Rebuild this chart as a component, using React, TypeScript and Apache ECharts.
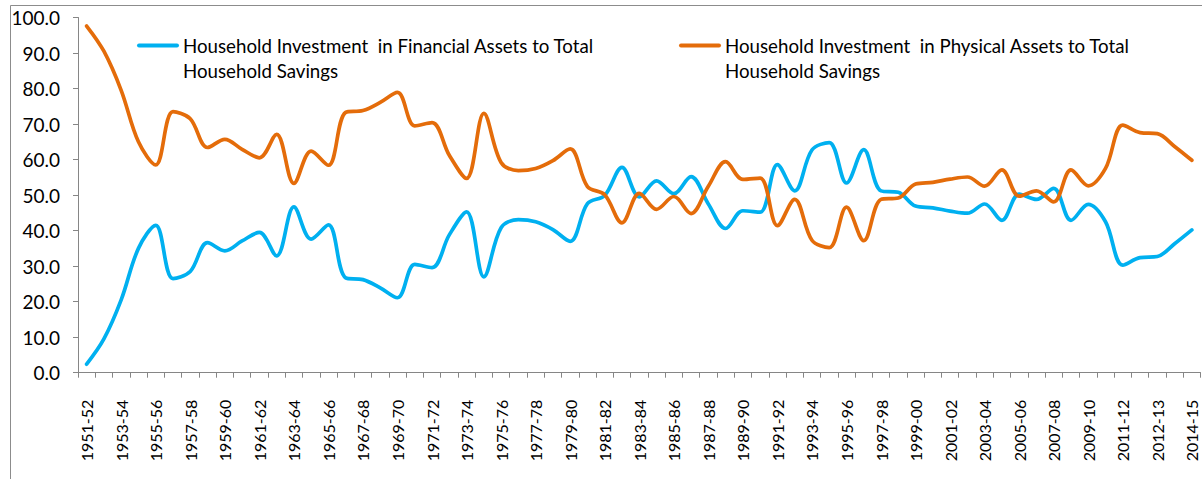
import React, { useEffect, useRef } from "react";
import * as echarts from "echarts";

const categories: string[] = [
  "1951-52", "1952-53", "1953-54", "1954-55", "1955-56", "1956-57", "1957-58", "1958-59", "1959-60", "1960-61",
  "1961-62", "1962-63", "1963-64", "1964-65", "1965-66", "1966-67", "1967-68", "1968-69", "1969-70", "1970-71",
  "1971-72", "1972-73", "1973-74", "1974-75", "1975-76", "1976-77", "1977-78", "1978-79", "1979-80", "1980-81",
  "1981-82", "1982-83", "1983-84", "1984-85", "1985-86", "1986-87", "1987-88", "1988-89", "1989-90", "1990-91",
  "1991-92", "1992-93", "1993-94", "1994-95", "1995-96", "1996-97", "1997-98", "1998-99", "1999-00", "2000-01",
  "2001-02", "2002-03", "2003-04", "2004-05", "2005-06", "2006-07", "2007-08", "2008-09", "2009-10", "2010-11",
  "2011-12", "2011-12", "2012-13", "2013-14", "2014-15",
];

const financial: number[] = [
  2.4, 9.5, 20.5, 35, 41.5, 26.5, 28.5, 36.6, 34.3, 37.1,
  39.5, 32.9, 46.7, 37.6, 41.6, 26.7, 26.2, 23.9, 21.1, 30.5,
  29.6, 38.8, 45.3, 27, 40.8, 43.1, 42.5, 40.3, 37, 47.6,
  49.9, 57.8, 49.5, 54, 50.4, 55.2, 47.5, 40.6, 45.6, 45.2,
  58.6, 51.2, 62.7, 64.8, 53.4, 62.8, 51.2, 50.8, 46.9, 46.4,
  45.5, 44.9, 47.5, 42.9, 50.3, 48.8, 51.9, 42.9, 47.4, 42.5,
  30.3, 32.4, 32.7, 36.3, 40.2,
];

const physical: number[] = [
  97.6, 90.5, 79.5, 65, 58.5, 73.5, 71.5, 63.4, 65.7, 62.9,
  60.5, 67.1, 53.3, 62.4, 58.4, 73.3, 73.8, 76.1, 78.9, 69.5,
  70.4, 61.2, 54.7, 73, 59.2, 56.9, 57.5, 59.7, 63, 52.4,
  50.1, 42.2, 50.5, 46, 49.6, 44.8, 52.5, 59.4, 54.4, 54.8,
  41.4, 48.8, 37.3, 35.2, 46.6, 37.2, 48.8, 49.2, 53.1, 53.6,
  54.5, 55.1, 52.5, 57.1, 49.7, 51.2, 48.1, 57.1, 52.6, 57.5,
  69.7, 67.6, 67.3, 63.7, 59.8,
];

const seriesNames: string[] = [
  "Household Investment  in Financial Assets to Total\nHousehold Savings",
  "Household Investment  in Physical Assets to Total\nHousehold Savings",
];

const BLUE = "#00B0F0";
const ORANGE = "#E46C0A";
const AXIS = "#868686";
const FONT = "Lato, 'Noto Sans', sans-serif";

export default function App() {
  const ref = useRef<HTMLDivElement>(null);

  useEffect(() => {
    if (!ref.current) return;
    const chart = echarts.init(ref.current, null, { renderer: "svg" });
    chart.setOption({
      animation: false,
      backgroundColor: "#ffffff",
      grid: { left: 78, right: 1.5, top: 17.5, bottom: 106.3 },
      xAxis: {
        type: "category",
        data: categories,
        boundaryGap: true,
        axisLine: { show: true, lineStyle: { color: AXIS, width: 1 } },
        axisTick: { show: true, interval: 0, length: 5, alignWithLabel: false, lineStyle: { color: AXIS } },
        axisLabel: {
          interval: 1,
          rotate: 90,
          margin: 27,
          color: "#000",
          fontFamily: FONT,
          fontSize: 16,
        },
        splitLine: { show: false },
      },
      yAxis: {
        type: "value",
        min: 0,
        max: 100,
        interval: 10,
        axisLine: { show: true, lineStyle: { color: AXIS, width: 1 } },
        axisTick: { show: true, length: 5, lineStyle: { color: AXIS } },
        axisLabel: {
          margin: 18,
          color: "#000",
          fontFamily: FONT,
          fontSize: 19,
          formatter: (v: number) => v.toFixed(1),
        },
        splitLine: { show: false },
      },
      series: [
        {
          name: seriesNames[0],
          type: "line",
          data: financial,
          smooth: 0.35,
          showSymbol: false,
          lineStyle: { color: BLUE, width: 3.7, cap: "round", join: "round" },
          itemStyle: { color: BLUE },
        },
        {
          name: seriesNames[1],
          type: "line",
          data: physical,
          smooth: 0.35,
          showSymbol: false,
          lineStyle: { color: ORANGE, width: 3.7, cap: "round", join: "round" },
          itemStyle: { color: ORANGE },
        },
      ],
      graphic: [
        { type: "line", shape: { x1: 10.5, y1: 5.5, x2: 1202, y2: 5.5 }, style: { stroke: "#8c8c8c", lineWidth: 1 } },
        { type: "line", shape: { x1: 10.5, y1: 5.5, x2: 10.5, y2: 479 }, style: { stroke: "#8c8c8c", lineWidth: 1 } },
        { type: "line", shape: { x1: 139, y1: 45.5, x2: 177, y2: 45.5 }, style: { stroke: BLUE, lineWidth: 4, lineCap: "round" } },
        {
          type: "text",
          x: 183,
          y: 33,
          style: { text: seriesNames[0], fill: "#000", font: `18.7px ${FONT}`, lineHeight: 25, textVerticalAlign: "top" },
        },
        { type: "line", shape: { x1: 681, y1: 45.5, x2: 719, y2: 45.5 }, style: { stroke: ORANGE, lineWidth: 4, lineCap: "round" } },
        {
          type: "text",
          x: 725,
          y: 33,
          style: { text: seriesNames[1], fill: "#000", font: `18.7px ${FONT}`, lineHeight: 25, textVerticalAlign: "top" },
        },
      ],
    });
    return () => chart.dispose();
  }, []);

  return (
    <div
      ref={ref}
      style={{ position: "absolute", left: 0, top: 0, width: 1202, height: 479 }}
    />
  );
}
